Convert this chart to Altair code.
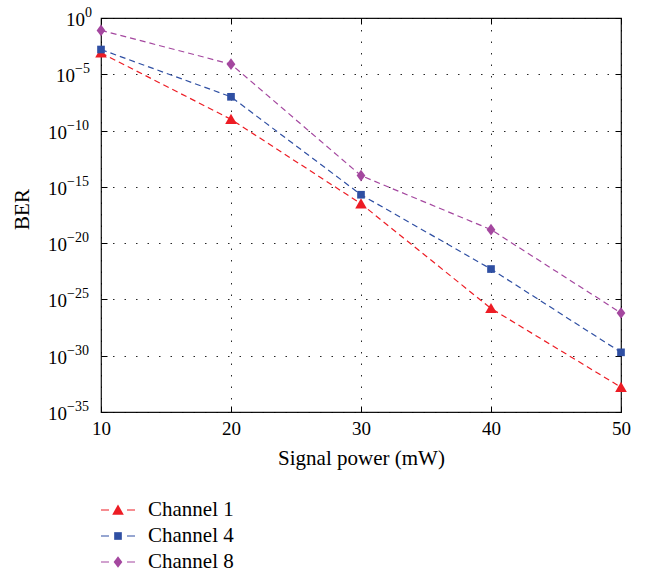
import altair as alt
import pandas as pd

# ---- data ----
power = [10, 20, 30, 40, 50]
channels = ["Channel 1", "Channel 4", "Channel 8"]
ch1_exp = [-3.1, -9.0, -16.5, -25.8, -32.8]   # log10(BER)
ch4_exp = [-2.8, -7.0, -15.7, -22.3, -29.7]
ch8_exp = [-1.1, -4.1, -14.0, -18.8, -26.2]
colors = ["#ed1c24", "#2f4fa3", "#a4479f"]
ytick_exp = [0, -5, -10, -15, -20, -25, -30, -35]
xticks = [10, 20, 30, 40, 50]

rows = []
for name, exps in zip(channels, [ch1_exp, ch4_exp, ch8_exp]):
    for p, e in zip(power, exps):
        rows.append({"channel": name, "power": p, "ber": 10.0 ** e})
df = pd.DataFrame(rows)

tdf = pd.DataFrame({
    "e": ytick_exp,
    "val": [10.0 ** e for e in ytick_exp],
    "sup": [("\u2212" + str(-e)) if e < 0 else "0" for e in ytick_exp],
})
leg = pd.DataFrame({"channel": channels})

FONT = "Liberation Serif, DejaVu Serif, serif"
xscale = alt.Scale(domain=[10, 50], nice=False, zero=False)
yscale = alt.Scale(type="log", domain=[1e-35, 1], nice=False)
cscale = alt.Scale(domain=channels, range=colors)
# marker outlines (unit box -1..1), drawn at one common size
shape_scale = alt.Scale(domain=channels, range=[
    "M0,-0.95L1,0.8L-1,0.8Z",
    "M-0.66,-0.66H0.66V0.66H-0.66Z",
    "M-0.75,0L0,-1L0.75,0L0,1Z",
])
MSIZE = 135

grid_kw = dict(gridDash=[1.5, 10], gridColor="#000000", gridOpacity=0.85, gridWidth=1)
tick_kw = dict(domain=False, ticks=True, tickSize=6, offset=-6, tickColor="#000000", tickWidth=1)

X_main = alt.X("power:Q", scale=xscale, axis=alt.Axis(
    values=xticks, grid=True, format="d", orient="bottom", labelFlush=False,
    labelFont=FONT, labelFontSize=19, labelColor="#000000", labelPadding=7,
    title="Signal power (mW)", titleFont=FONT, titleFontSize=21,
    titleFontWeight="normal", titleColor="#000000", titlePadding=9,
    **grid_kw, **tick_kw))
Y_main = alt.Y("ber:Q", scale=yscale, axis=alt.Axis(
    values=[10.0 ** e for e in ytick_exp], grid=True, labels=False, orient="left",
    title="BER", titleFont=FONT, titleFontSize=21, titleFontWeight="normal",
    titleColor="#000000", titlePadding=68, titleY=191,
    **grid_kw, **tick_kw))
X_top = alt.X("power:Q", scale=xscale, axis=alt.Axis(
    values=xticks, grid=False, labels=False, title=None, orient="top", **tick_kw))
Y_right = alt.Y("ber:Q", scale=yscale, axis=alt.Axis(
    values=[10.0 ** e for e in ytick_exp], grid=False, labels=False, title=None,
    orient="right", **tick_kw))

color = alt.Color("channel:N", scale=cscale, legend=None)
shape = alt.Shape("channel:N", scale=shape_scale, legend=None)

base = alt.Chart(df)
lines = base.mark_line(strokeDash=[6, 4], strokeWidth=1.2).encode(
    x=X_top, y=Y_right, color=color, detail="channel:N")
points = base.mark_point(filled=True, opacity=1, size=MSIZE).encode(
    x=X_main, y=Y_main, color=color, shape=shape)

label_layers = []
for cond, split in [("datum.e == 0", -16), ("datum.e == -5", -26), ("datum.e <= -10", -34)]:
    t = alt.Chart(tdf).transform_filter(cond)
    label_layers.append(t.mark_text(align="right", baseline="alphabetic", dy=8,
                                    font=FONT, fontSize=19, color="#000000").encode(
        x=alt.value(split), y=alt.Y("val:Q", scale=yscale, axis=None), text=alt.value("10")))
    label_layers.append(t.mark_text(align="left", baseline="alphabetic", dy=-1,
                                    font=FONT, fontSize=14, color="#000000").encode(
        x=alt.value(split), y=alt.Y("val:Q", scale=yscale, axis=None), text="sup:N"))

main = alt.layer(lines, points, *label_layers).resolve_axis(x="independent", y="independent")

LY = alt.Y("channel:N", scale=alt.Scale(type="point", domain=channels, range=[492, 544], padding=0),
           axis=None)
lbase = alt.Chart(leg)
leg_rule = lbase.mark_rule(strokeDash=[8, 18], strokeWidth=1.2).encode(
    x=alt.value(0), x2=alt.value(34), y=LY, color=color)
leg_pt = lbase.mark_point(filled=True, opacity=1, size=MSIZE).encode(
    x=alt.value(17), y=LY, color=color, shape=shape)
leg_txt = lbase.mark_text(align="left", baseline="middle", font=FONT, fontSize=21,
                          color="#000000").encode(x=alt.value(47), y=LY, text="channel:N")
legend = alt.layer(leg_rule, leg_pt, leg_txt)

chart = alt.layer(main, legend).resolve_scale(y="independent").properties(
    width=520, height=394,
    autosize=alt.AutoSizeParams(type="none"),
    padding={"left": 101, "top": 18, "right": 24, "bottom": 160},
    background="white",
).configure_view(stroke="#111111", strokeWidth=1.2)

chart.save("out.html", embed_options={"renderer": "svg", "actions": False})
